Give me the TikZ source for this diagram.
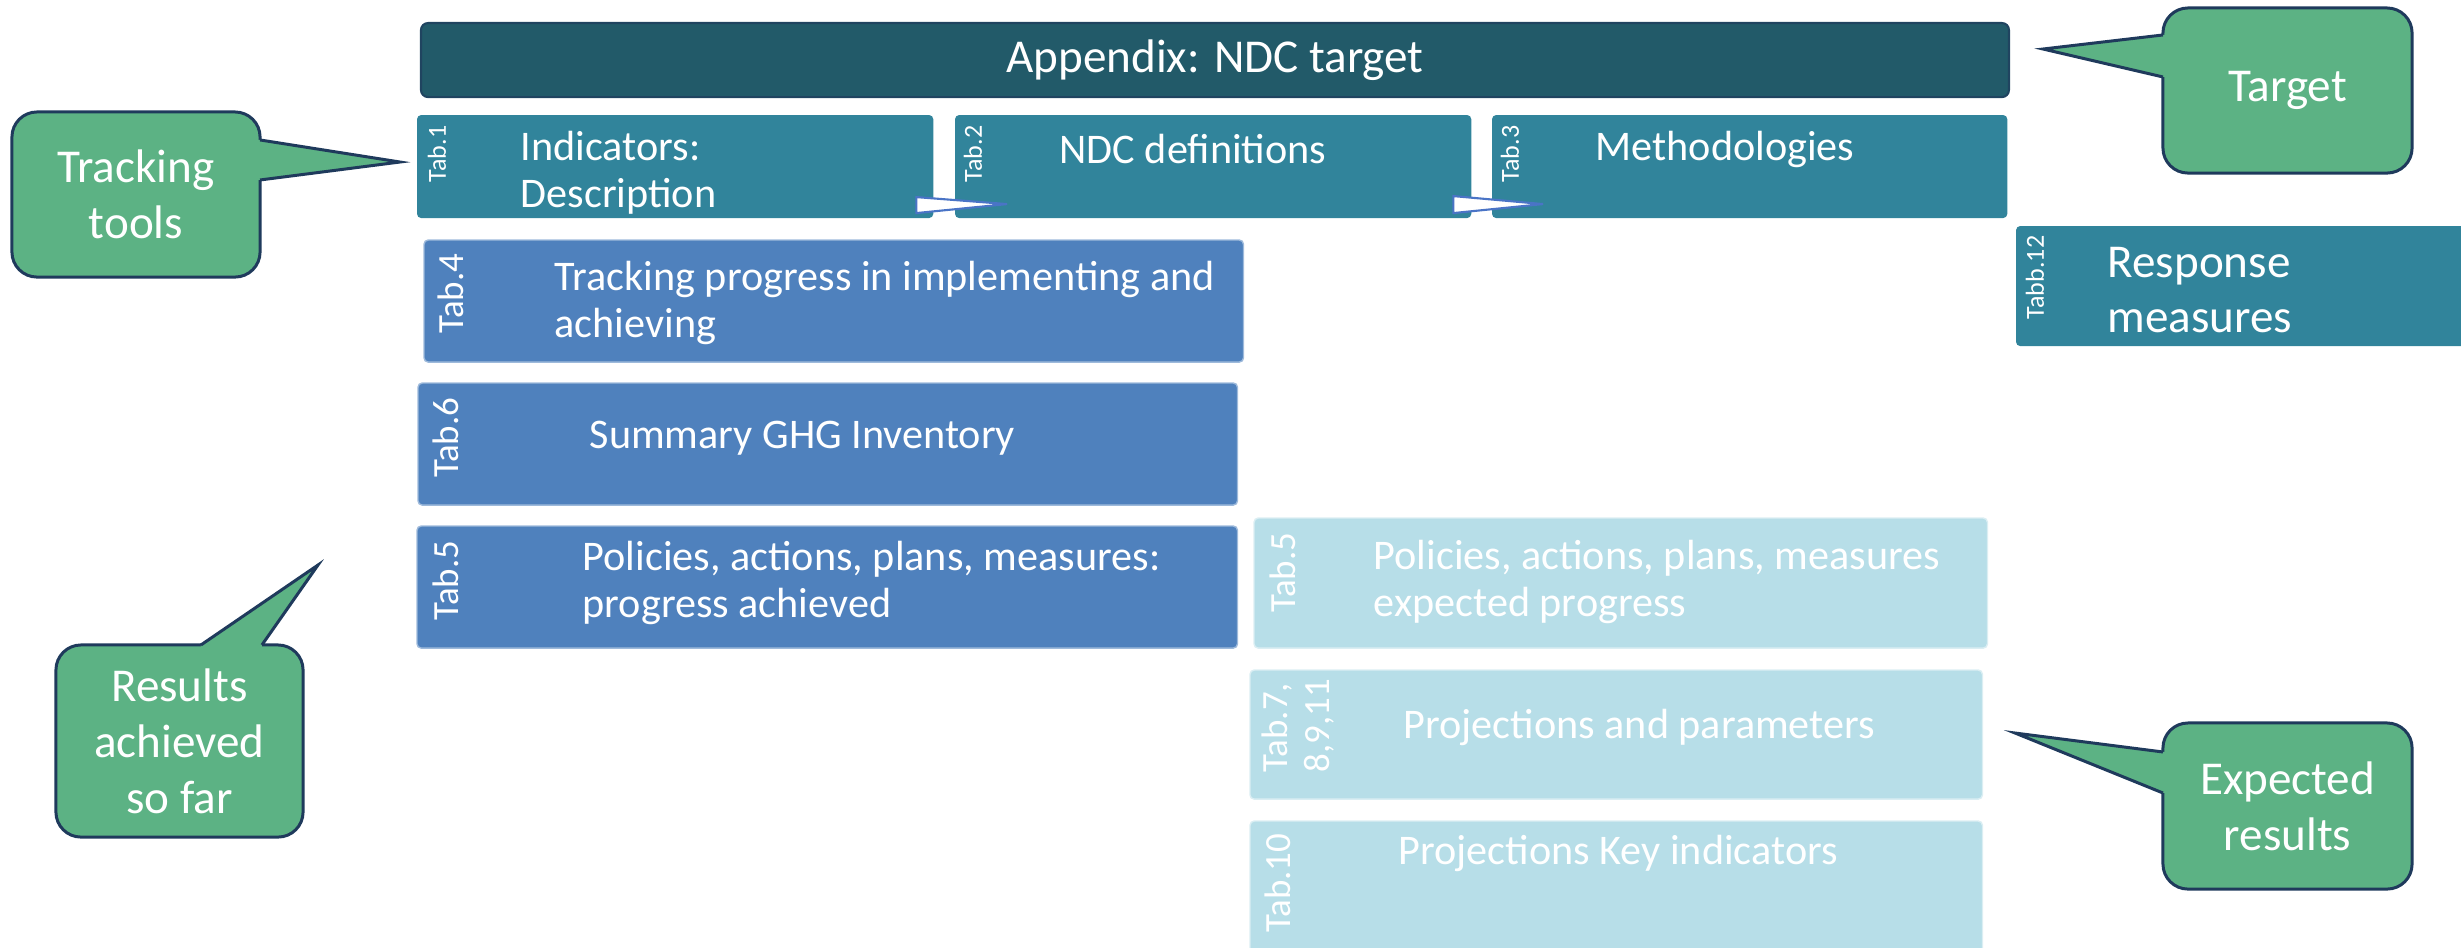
\documentclass[tikz,border=0pt]{standalone}
\usepackage{fontspec}
\setmainfont{Carlito}
\usepackage{tikz}
\usetikzlibrary{calc}

\definecolor{ndcdark}{HTML}{225A69}
\definecolor{ndcteal}{HTML}{31849B}
\definecolor{ndcblue}{HTML}{4F81BD}
\definecolor{ndclight}{HTML}{B7DEE8}
\definecolor{callgreen}{HTML}{5CB284}
\definecolor{callline}{HTML}{1F3A5C}
\definecolor{wedgeline}{HTML}{4A74C6}

\begin{document}
\begin{tikzpicture}[x=0.01cm,y=-0.01cm,text=white,
        font=\fontsize{12}{13.3}\selectfont]
    \tikzstyle{box}=[rectangle,rounded corners=1.2pt,inner sep=0pt,outer sep=0pt,anchor=north west]
    \tikzstyle{top row}=[box,fill=ndcteal,minimum width=5.16cm,minimum height=1.03cm]
    \tikzstyle{achieved}=[box,fill=ndcblue,draw=ndcblue!55!white,line width=0.4pt,minimum width=8.19cm,minimum height=1.22cm]
    \tikzstyle{expected}=[box,fill=ndclight,draw=ndclight!50!white,line width=0.4pt,minimum width=7.32cm,minimum height=1.3cm]
    \tikzstyle{tab}=[rotate=90,anchor=east,inner sep=0pt,font=\fontsize{10.5}{11.7}\selectfont]
    \tikzstyle{small tab}=[tab,font=\fontsize{7.4}{8}\selectfont]
    \tikzstyle{txt}=[anchor=west,align=left,inner sep=0pt]
    \tikzstyle{bubble}=[rectangle,rounded corners=0.25cm,fill=callgreen,draw=callline,line width=0.85pt,
        inner sep=0pt,outer sep=0pt,align=center,font=\fontsize{13.4}{15.9}\selectfont]
    \tikzstyle{bubble line}=[draw=callline,line width=0.85pt]
    \tikzstyle{wedge}=[fill=white,draw=wedgeline,line width=0.6pt]

    \useasboundingbox (0,0) rectangle (2461,947);

    % target bar
    \node[box,fill=ndcdark,draw=callline!70!ndcdark,line width=0.6pt,rounded corners=2pt,
        minimum width=15.87cm,minimum height=0.74cm,font=\fontsize{13.4}{15}\selectfont]
        (app) at (421,23) {Appendix: NDC target};

    % tracking tools row
    \node[top row] (t1) at (417,115) {};
    \node[small tab] (t1 tab) at (437,125) {Tab.1};
    \node[txt] (t1 txt) at (520,173) {Indicators:\\Description};
    \node[top row] (t2) at (955,115) {};
    \node[small tab] (t2 tab) at (973,125) {Tab.2};
    \node[txt] (t2 txt) at (1059,149) {NDC definitions};
    \node[top row,minimum width=5.15cm] (t3) at (1492,115) {};
    \node[small tab] (t3 tab) at (1510,125) {Tab.3};
    \node[txt] (t3 txt) at (1595,149) {Methodologies};

    \draw[wedge] ($(t1.south east)+(-17,-21)$) -- ($(t2.south west)+(52,-14)$)
        -- ($(t1.south east)+(-17,-5)$) -- cycle;
    \draw[wedge] ($(t2.south east)+(-18,-22)$) -- ($(t3.south west)+(51,-14)$)
        -- ($(t2.south east)+(-18,-5)$) -- cycle;

    \node[top row,minimum width=4.64cm,minimum height=1.2cm] (t12) at (2016,226) {};
    \node[small tab] (t12 tab) at (2035,235) {Tabb.12};
    \node[txt,font=\fontsize{13.4}{15.4}\selectfont] (t12 txt) at (2107,290) {Response\\measures};

    % results achieved
    \node[achieved] (t4) at (424,240) {};
    \node[tab] (t4 tab) at (451,253) {Tab.4};
    \node[txt] (t4 txt) at (554,303) {Tracking progress in implementing and\\achieving};
    \node[achieved] (t6) at (418,383) {};
    \node[tab] (t6 tab) at (446,397) {Tab.6};
    \node[txt] (t6 txt) at (589,438) {Summary GHG Inventory};
    \node[achieved,minimum width=8.2cm] (t5a) at (417,526) {};
    \node[tab] (t5a tab) at (446,540) {Tab.5};
    \node[txt] (t5a txt) at (582,583) {Policies, actions, plans, measures:\\progress achieved};

    % expected results
    \node[expected,minimum width=7.33cm] (t5b) at (1254,518) {};
    \node[tab] (t5b tab) at (1283,532) {Tab.5};
    \node[txt] (t5b txt) at (1373,582) {Policies, actions, plans, measures\\expected progress};
    \node[expected,minimum height=1.29cm] (t7) at (1250,670) {};
    \node[tab,anchor=west,align=left] (t7 tab) at (1298,773) {Tab.7,\\8,9,11};
    \node[txt] (t7 txt) at (1403,727) {Projections and parameters};
    \node[expected,minimum height=1.5cm] (t10) at (1250,821) {};
    \node[tab] (t10 tab) at (1278,833) {Tab.10};
    \node[txt] (t10 txt) at (1398,853) {Projections Key indicators};

    % callouts
    \node[bubble,minimum width=2.48cm,minimum height=1.65cm] (tt) at (136,194.5) {Tracking\\tools};
    \coordinate (tt tip) at (400,162);
    \fill[callgreen] ($(tt.north east)+(-6,28)$) -- ($(tt.north east)+(0,28)$) -- (tt tip)
        -- ($(tt.north east)+(0,68)$) -- ($(tt.north east)+(-6,68)$) -- cycle;
    \draw[bubble line] ($(tt.north east)+(0,28)$) -- (tt tip) -- ($(tt.north east)+(0,68)$);

    \node[bubble,minimum width=2.49cm,minimum height=1.65cm] (tg) at (2287.5,90.5) {Target};
    \coordinate (tg tip) at (2043,49);
    \fill[callgreen] ($(tg.north west)+(6,27)$) -- ($(tg.north west)+(0,27)$) -- (tg tip)
        -- ($(tg.north west)+(0,69)$) -- ($(tg.north west)+(6,69)$) -- cycle;
    \draw[bubble line] ($(tg.north west)+(0,27)$) -- (tg tip) -- ($(tg.north west)+(0,69)$);

    \node[bubble,minimum width=2.47cm,minimum height=1.92cm] (ra) at (179.5,741) {Results\\achieved\\so far};
    \coordinate (ra tip) at (318,565);
    \fill[callgreen] ($(ra.north west)+(145,6)$) -- ($(ra.north west)+(145,0)$) -- (ra tip)
        -- ($(ra.north west)+(206,0)$) -- ($(ra.north west)+(206,6)$) -- cycle;
    \draw[bubble line] ($(ra.north west)+(145,0)$) -- (ra tip) -- ($(ra.north west)+(206,0)$);

    \node[bubble,minimum width=2.49cm,minimum height=1.66cm] (er) at (2287.5,806) {Expected\\results};
    \coordinate (er tip) at (2015,733);
    \fill[callgreen] ($(er.north west)+(6,29)$) -- ($(er.north west)+(0,29)$) -- (er tip)
        -- ($(er.north west)+(0,70)$) -- ($(er.north west)+(6,70)$) -- cycle;
    \draw[bubble line] ($(er.north west)+(0,29)$) -- (er tip) -- ($(er.north west)+(0,70)$);

\end{tikzpicture}
\end{document}
